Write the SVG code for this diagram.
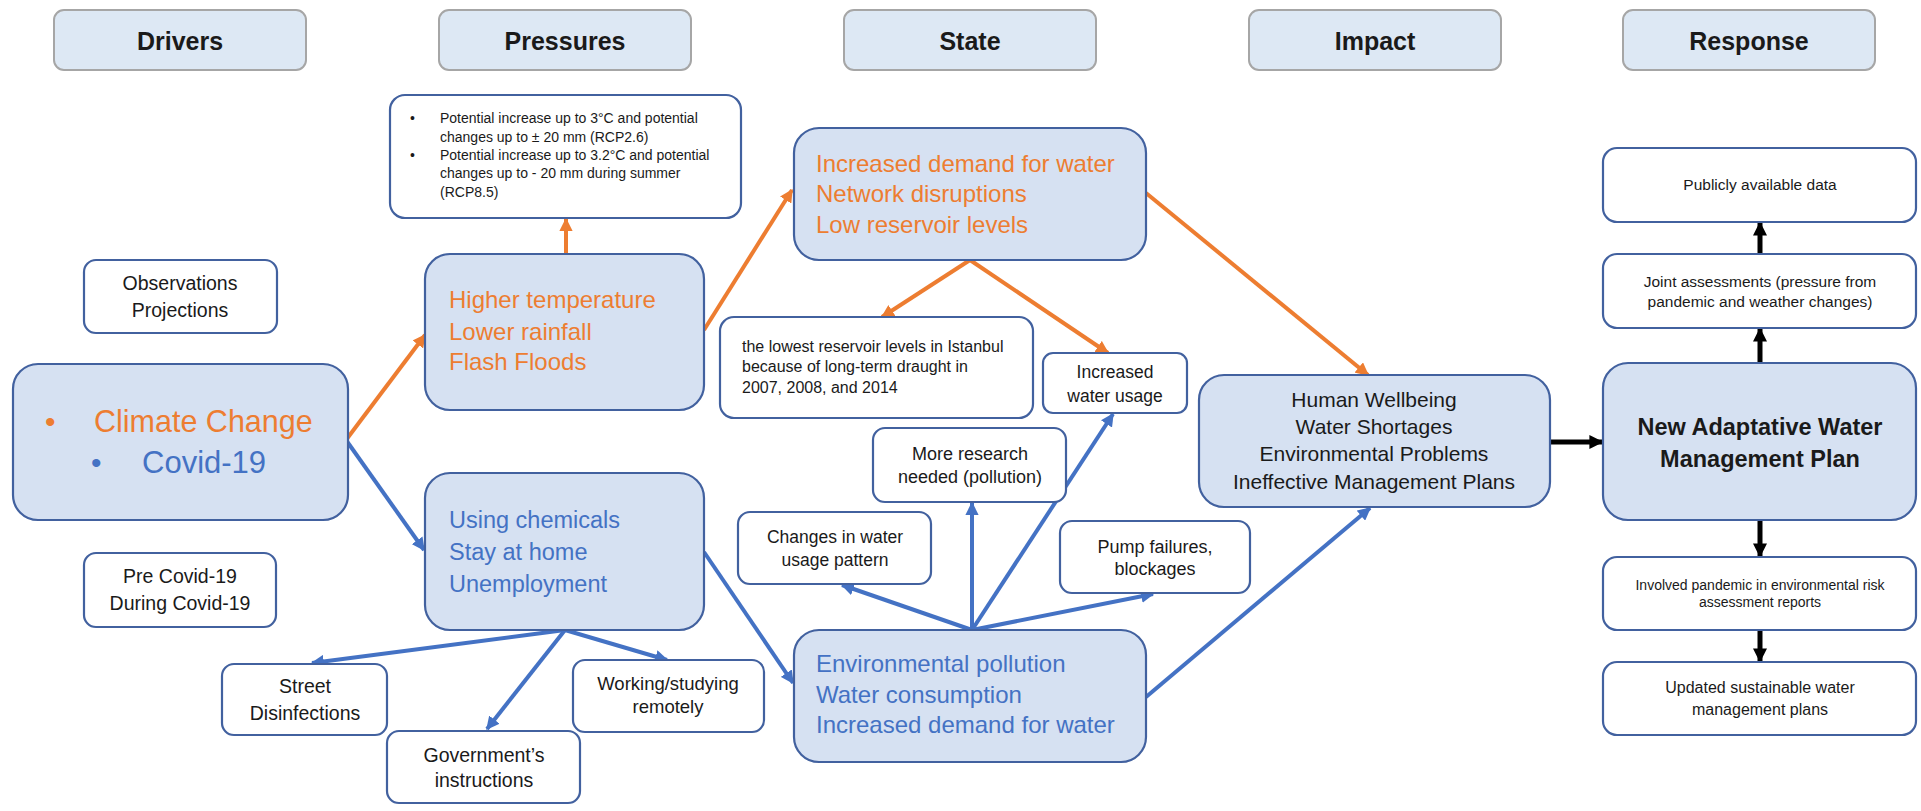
<svg xmlns="http://www.w3.org/2000/svg" width="1921" height="811" viewBox="0 0 1921 811">
<style>
text{font-family:"Liberation Sans",Arial,sans-serif;fill:#1a1a1a}
.hdr rect{fill:#dde8f4;stroke:#a6a6a6;stroke-width:2}
.hdr text{font-weight:bold;font-size:25px;text-anchor:middle}
.big{fill:#d6e1f2;stroke:#42619f;stroke-width:2.2}
.wht{fill:#ffffff;stroke:#42619f;stroke-width:2.2}
.c{text-anchor:middle}
.or{fill:#ed7d31}
.bl{fill:#4472c4}
.lo{stroke:#ed7d31;stroke-width:4;fill:none;marker-end:url(#ao)}
.lb{stroke:#4472c4;stroke-width:4;fill:none;marker-end:url(#ab)}
.lk{stroke:#000;stroke-width:5;fill:none;marker-end:url(#ak)}
</style>
<defs>
<marker id="ao" viewBox="0 0 10 10" refX="9" refY="5" markerWidth="3.3" markerHeight="3.3" orient="auto"><path d="M0,0 L10,5 L0,10 z" fill="#ed7d31"/></marker>
<marker id="ab" viewBox="0 0 10 10" refX="9" refY="5" markerWidth="3.3" markerHeight="3.3" orient="auto"><path d="M0,0 L10,5 L0,10 z" fill="#4472c4"/></marker>
<marker id="ak" viewBox="0 0 10 10" refX="9" refY="5" markerWidth="2.8" markerHeight="2.8" orient="auto"><path d="M0,0 L10,5 L0,10 z" fill="#000"/></marker>
</defs>
<rect width="1921" height="811" fill="#fff"/>

<g id="headers">
<g id="h-drivers" class="hdr"><rect x="54" y="10" width="252" height="60" rx="10"/><text x="180" y="50">Drivers</text></g>
<g id="h-pressures" class="hdr"><rect x="439" y="10" width="252" height="60" rx="10"/><text x="565" y="50">Pressures</text></g>
<g id="h-state" class="hdr"><rect x="844" y="10" width="252" height="60" rx="10"/><text x="970" y="50">State</text></g>
<g id="h-impact" class="hdr"><rect x="1249" y="10" width="252" height="60" rx="10"/><text x="1375" y="50">Impact</text></g>
<g id="h-response" class="hdr"><rect x="1623" y="10" width="252" height="60" rx="10"/><text x="1749" y="50">Response</text></g>
</g>

<g id="connectors">
<line class="lo" x1="346" y1="440" x2="425" y2="335"/>
<line class="lo" x1="566" y1="254" x2="566" y2="219"/>
<line class="lo" x1="704" y1="330" x2="792" y2="190"/>
<line class="lo" x1="970" y1="260" x2="882" y2="317"/>
<line class="lo" x1="970" y1="260" x2="1108" y2="353"/>
<line class="lo" x1="1146" y1="193" x2="1368" y2="375"/>
<line class="lb" x1="346" y1="440" x2="424" y2="550"/>
<line class="lb" x1="565" y1="630" x2="312" y2="663"/>
<line class="lb" x1="565" y1="630" x2="487" y2="729"/>
<line class="lb" x1="565" y1="630" x2="667" y2="660"/>
<line class="lb" x1="704" y1="552" x2="793" y2="683"/>
<line class="lb" x1="972" y1="630" x2="842" y2="585"/>
<line class="lb" x1="972" y1="630" x2="972" y2="503"/>
<line class="lb" x1="972" y1="630" x2="1113" y2="414"/>
<line class="lb" x1="972" y1="630" x2="1153" y2="594"/>
<line class="lb" x1="1146" y1="697" x2="1370" y2="508"/>
<line class="lk" x1="1551" y1="442" x2="1602" y2="442"/>
<line class="lk" x1="1760" y1="363" x2="1760" y2="329"/>
<line class="lk" x1="1760" y1="254" x2="1760" y2="223"/>
<line class="lk" x1="1760" y1="520" x2="1760" y2="556"/>
<line class="lk" x1="1760" y1="630" x2="1760" y2="661"/>
</g>

<g id="n-climate"><rect class="big" x="13" y="364" width="335" height="156" rx="25"/>
<text class="or" x="45" y="432" font-size="30">•</text><text class="or" x="94" y="432" font-size="30.5">Climate Change</text>
<text class="bl" x="91" y="473" font-size="30">•</text><text class="bl" x="142" y="473" font-size="31">Covid-19</text></g>

<g id="n-observations"><rect class="wht" x="84" y="260" width="193" height="73" rx="12"/>
<text class="c" x="180" y="290" font-size="19.5">Observations</text><text class="c" x="180" y="317" font-size="19.5">Projections</text></g>

<g id="n-precovid"><rect class="wht" x="84" y="553" width="192" height="74" rx="12"/>
<text class="c" x="180" y="583" font-size="19.5">Pre Covid-19</text><text class="c" x="180" y="610" font-size="19.5">During Covid-19</text></g>

<g id="n-notes"><rect class="wht" x="390" y="95" width="351" height="123" rx="15"/>
<g font-size="14"><text x="410" y="123">•</text><text x="440" y="123">Potential increase up to 3°C and potential</text>
<text x="440" y="142">changes up to ± 20 mm (RCP2.6)</text>
<text x="410" y="160">•</text><text x="440" y="160">Potential increase up to 3.2°C and potential</text>
<text x="440" y="178">changes up to - 20 mm during summer</text>
<text x="440" y="197">(RCP8.5)</text></g></g>

<g id="n-higher"><rect class="big" x="425" y="254" width="279" height="156" rx="25"/>
<g class="or" font-size="24"><text class="or" x="449" y="308">Higher temperature</text><text class="or" x="449" y="340">Lower rainfall</text><text class="or" x="449" y="370">Flash Floods</text></g></g>

<g id="n-chemicals"><rect class="big" x="425" y="473" width="279" height="157" rx="25"/>
<g font-size="23.5"><text class="bl" x="449" y="528">Using chemicals</text><text class="bl" x="449" y="560">Stay at home</text><text class="bl" x="449" y="592">Unemployment</text></g></g>

<g id="n-street"><rect class="wht" x="222" y="664" width="165" height="71" rx="12"/>
<text class="c" x="305" y="693" font-size="19.5">Street</text><text class="c" x="305" y="720" font-size="19.5">Disinfections</text></g>

<g id="n-government"><rect class="wht" x="387" y="731" width="193" height="72" rx="12"/>
<text class="c" x="484" y="762" font-size="19.5">Government’s</text><text class="c" x="484" y="787" font-size="19.5">instructions</text></g>

<g id="n-working"><rect class="wht" x="573" y="660" width="191" height="72" rx="12"/>
<text class="c" x="668" y="690" font-size="18.5">Working/studying</text><text class="c" x="668" y="713" font-size="18.5">remotely</text></g>

<g id="n-state"><rect class="big" x="794" y="128" width="352" height="132" rx="25"/>
<g font-size="24"><text class="or" x="816" y="172">Increased demand for water</text><text class="or" x="816" y="202">Network disruptions</text><text class="or" x="816" y="233">Low reservoir levels</text></g></g>

<g id="n-reservoir"><rect class="wht" x="720" y="317" width="313" height="101" rx="14"/>
<g font-size="16"><text x="742" y="352">the lowest reservoir levels in Istanbul</text><text x="742" y="372">because of long-term draught in</text><text x="742" y="393">2007, 2008, and  2014</text></g></g>

<g id="n-usage"><rect class="wht" x="1043" y="353" width="144" height="60" rx="10"/>
<text class="c" x="1115" y="378" font-size="17.5">Increased</text><text class="c" x="1115" y="402" font-size="17.5">water usage</text></g>

<g id="n-research"><rect class="wht" x="873" y="428" width="193" height="74" rx="12"/>
<text class="c" x="970" y="460" font-size="18">More research</text><text class="c" x="970" y="483" font-size="18">needed (pollution)</text></g>

<g id="n-changes"><rect class="wht" x="738" y="512" width="193" height="72" rx="12"/>
<text class="c" x="835" y="543" font-size="17.5">Changes in water</text><text class="c" x="835" y="566" font-size="17.5">usage pattern</text></g>

<g id="n-pump"><rect class="wht" x="1060" y="521" width="190" height="72" rx="12"/>
<text class="c" x="1155" y="553" font-size="18">Pump failures,</text><text class="c" x="1155" y="575" font-size="18">blockages</text></g>

<g id="n-env"><rect class="big" x="794" y="630" width="352" height="132" rx="25"/>
<g font-size="24"><text class="bl" x="816" y="672">Environmental pollution</text><text class="bl" x="816" y="703">Water consumption</text><text class="bl" x="816" y="733">Increased demand for water</text></g></g>

<g id="n-impact"><rect class="big" x="1199" y="375" width="351" height="132" rx="25"/>
<g font-size="21"><text class="c" x="1374" y="407">Human Wellbeing</text><text class="c" x="1374" y="434">Water Shortages</text><text class="c" x="1374" y="461">Environmental Problems</text><text class="c" x="1374" y="489">Ineffective Management Plans</text></g></g>

<g id="n-public"><rect class="wht" x="1603" y="148" width="313" height="74" rx="14"/>
<text class="c" x="1760" y="190" font-size="15.5">Publicly available data</text></g>

<g id="n-joint"><rect class="wht" x="1603" y="254" width="313" height="74" rx="14"/>
<text class="c" x="1760" y="287" font-size="15.5">Joint assessments (pressure from</text><text class="c" x="1760" y="307" font-size="15.5">pandemic and weather changes)</text></g>

<g id="n-new"><rect class="big" x="1603" y="363" width="313" height="157" rx="25"/>
<text class="c" x="1760" y="435" font-size="23.5" font-weight="bold">New Adaptative Water</text><text class="c" x="1760" y="467" font-size="23.5" font-weight="bold">Management Plan</text></g>

<g id="n-involved"><rect class="wht" x="1603" y="557" width="313" height="73" rx="14"/>
<text class="c" x="1760" y="590" font-size="14">Involved pandemic in environmental risk</text><text class="c" x="1760" y="607" font-size="14">assessment reports</text></g>

<g id="n-updated"><rect class="wht" x="1603" y="662" width="313" height="73" rx="14"/>
<text class="c" x="1760" y="693" font-size="16">Updated sustainable water</text><text class="c" x="1760" y="715" font-size="16">management plans</text></g>
</svg>
